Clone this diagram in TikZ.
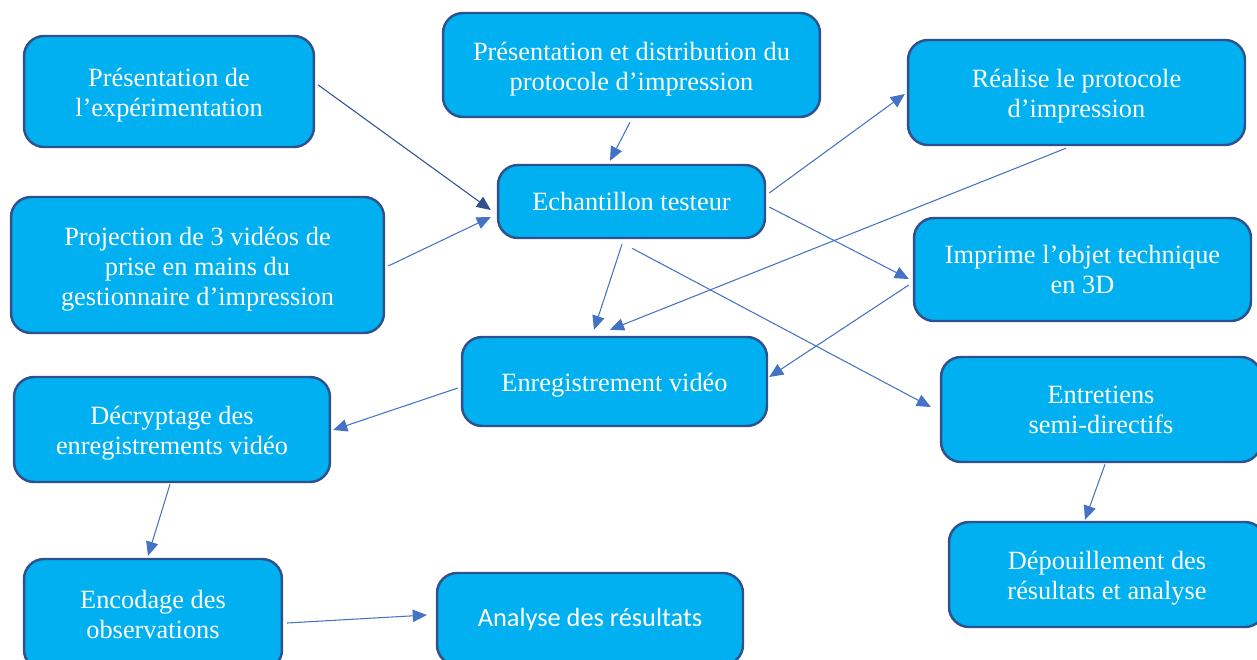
\documentclass[tikz,border=0pt]{standalone}
\usepackage{fontspec}
\setmainfont{Liberation Serif}
\newfontfamily\calibri{Carlito}
\usetikzlibrary{calc,arrows.meta}
\definecolor{boxfill}{HTML}{00B0F0}
\definecolor{boxline}{HTML}{2F528F}
\definecolor{arrowblue}{HTML}{4472C4}
\newcommand{\lift}{\rule{0pt}{15pt}}
\tikzset{
  stage/.style={draw=boxline, line width=1.4pt, fill=boxfill, rounded corners=0.4cm,
    text=white, align=center, inner sep=2pt,
    font=\fontsize{15}{17}\selectfont},
  link/.style={draw=arrowblue, line width=0.6pt, -{Triangle[length=8pt,width=7pt]}},
}

\begin{document}
\begin{tikzpicture}[x=0.02cm,y=-0.02cm]
\useasboundingbox (0,0) rectangle (1257,659);
% boxes
\node[stage, minimum width=5.8cm, minimum height=2.22cm] (pres) at (169,91.5) {\lift Présentation de\\l’expérimentation};
\node[stage, minimum width=7.54cm, minimum height=2.08cm] (distr) at (631.5,65) {\lift Présentation et distribution du\\protocole d’impression};
\node[stage, minimum width=6.74cm, minimum height=2.1cm] (realise) at (1076.5,92.5) {\lift Réalise le protocole\\d’impression};
\node[stage, minimum width=7.46cm, minimum height=2.72cm] (proj) at (197.5,265) {\lift Projection de 3 vidéos de\\prise en mains du\\gestionnaire d’impression};
\node[stage, minimum width=5.34cm, minimum height=1.46cm] (echant) at (631.5,201.5) {Echantillon testeur};
\node[stage, minimum width=6.74cm, minimum height=2.06cm] (imprime) at (1082.5,269.5) {Imprime l’objet technique\\en 3D};
\node[stage, minimum width=6.1cm, minimum height=1.78cm] (enreg) at (614.5,381.5) {\lift Enregistrement vidéo};
\node[stage, minimum width=6.32cm, minimum height=2.1cm] (decrypt) at (172,429.5) {\lift Décryptage des\\enregistrements vidéo};
\node[stage, minimum width=6.4cm, minimum height=2.1cm] (entret) at (1101,409.5) {Entretiens\\semi-directifs};
\node[stage, minimum width=5.16cm, minimum height=2.22cm] (encod) at (153,614.5) {Encodage des\\observations};
\node[stage, minimum width=6.12cm, minimum height=1.84cm, font=\calibri\fontsize{15}{17}\selectfont] (analyse) at (590,619) {Analyse des résultats};
\node[stage, minimum width=6.32cm, minimum height=2.1cm] (depouil) at (1107,574.5) {\lift Dépouillement des\\résultats et analyse};
% arrows
\draw[link, draw=boxline] ([shift={(3,-6.5)}]pres.east) -- ([shift={(-6,8.5)}]echant.west);
\draw[link] ([shift={(3,1)}]proj.east) -- ([shift={(-6,15.5)}]echant.west);
\draw[link] ([shift={(-1.5,4)}]distr.south) -- ([shift={(-21.5,-3)}]echant.north);
\draw[link] ([shift={(3,-8.5)}]echant.east) -- ([shift={(-2,1.5)}]realise.west);
\draw[link] ([shift={(3,5.5)}]echant.east) -- ([shift={(-4,9.5)}]imprime.west);
\draw[link] ([shift={(-9.5,5)}]echant.south) -- ([shift={(-20.5,-6)}]enreg.north);
\draw[link] ([shift={(0.5,9)}]echant.south) -- ([shift={(-9,-2.5)}]entret.west);
\draw[link] ([shift={(-10.5,2)}]realise.south) -- ([shift={(-4.5,-6)}]enreg.north);
\draw[link] ([shift={(-4,15.5)}]imprime.west) -- ([shift={(1,-4.5)}]enreg.east);
\draw[link] ([shift={(-3,6.5)}]enreg.west) -- ([shift={(2,0.5)}]decrypt.east);
\draw[link] ([shift={(-2,1)}]decrypt.south) -- ([shift={(-5,-2)}]encod.north);
\draw[link] ([shift={(4,8.5)}]encod.east) -- ([shift={(-9,-4)}]analyse.west);
\draw[link] ([shift={(4,1)}]entret.south) -- ([shift={(-22,-1)}]depouil.north);
\end{tikzpicture}
\end{document}
